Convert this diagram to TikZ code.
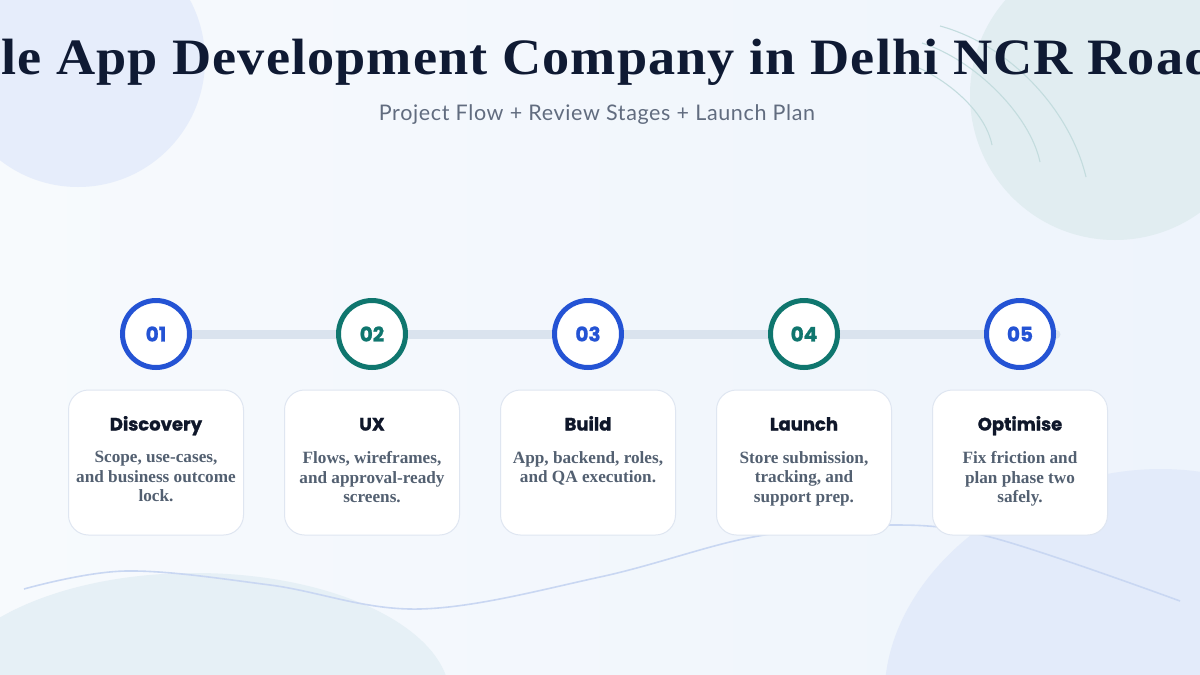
\documentclass[tikz,border=0pt]{standalone}
\usepackage{fontspec}
\setmainfont{Liberation Serif}
\newfontfamily\subfont[LetterSpace=3]{Lato}
\newfontfamily\headfont[BoldFeatures={FakeBold=1.2}]{Poppins}
\newfontfamily\titlefont[LetterSpace=2]{Liberation Serif}
\definecolor{bgA}{HTML}{F7FAFD}
\definecolor{bgB}{HTML}{EEF4FC}
\definecolor{blobTL}{HTML}{E6EDFB}
\definecolor{blobTR}{HTML}{E1EDF1}
\definecolor{blobBL}{HTML}{E6F0F6}
\definecolor{blobBR}{HTML}{E3EBFA}
\definecolor{arcC}{HTML}{C3DCDE}
\definecolor{waveC}{HTML}{C9D7F2}
\definecolor{titleC}{HTML}{0F1A33}
\definecolor{subC}{HTML}{616C7F}
\definecolor{blueC}{HTML}{2453D4}
\definecolor{tealC}{HTML}{0F766E}
\definecolor{trackC}{HTML}{DAE3EE}
\definecolor{cardB}{HTML}{DFE6F1}
\definecolor{headC}{HTML}{0F172A}
\definecolor{bodyC}{HTML}{536071}
\pgfdeclarelayer{deco}
\pgfdeclarelayer{track}
\pgfsetlayers{deco,track,main}
\tikzset{
  ring/.style={circle, draw=#1, line width=5pt, fill=white, minimum size=67pt, inner sep=0pt,
    text=#1, font=\headfont\bfseries\fontsize{20}{20}\selectfont},
  card/.style={rounded corners=20pt, draw=cardB, line width=1pt, fill=white,
    minimum width=175pt, minimum height=145pt, inner sep=0pt},
  heading/.style={anchor=base, inner sep=0pt, text=headC, font=\headfont\bfseries\fontsize{18}{18}\selectfont},
  body/.style={anchor=north, inner sep=0pt, align=center, text=bodyC,
    font=\bfseries\fontsize{17.2}{19.7}\selectfont},
  track/.style={draw=trackC, line width=9pt, line cap=round},
  deco arc/.style={draw=arcC, line width=1.1pt},
  wave/.style={draw=waveC, line width=1.6pt}
}
\begin{document}
\begin{tikzpicture}[x=1pt,y=-1pt]
\useasboundingbox (0,0) rectangle (1200,675);
\clip (0,0) rectangle (1200,675);
\begin{pgfonlayer}{deco}
  \shade[left color=bgA, right color=bgB] (0,0) rectangle (1200,675);
  \fill[blobTL] (78,60) circle[radius=127];
  \fill[blobTR] (1115,95) circle[radius=145];
  \fill[blobBL] (195,698) ellipse[x radius=255, y radius=125];
  \fill[blobBR, rotate around={18:(1125,665)}] (1125,665) ellipse[x radius=245, y radius=190];
  \path[deco arc] (940,26) .. controls (1010,45) and (1070,110) .. (1086,177);
  \path[deco arc] (922,43) .. controls (975,60) and (1030,115) .. (1040,162);
  \path[deco arc] (912,65) .. controls (945,78) and (985,110) .. (992,145);
  \draw[wave] plot[smooth, tension=0.6] coordinates {(24,589) (126,571) (270,585) (420,609) (600,577) (753,537) (880,525) (990,537) (1180,601)};
\end{pgfonlayer}

\node[anchor=base west, inner sep=0pt, text=titleC, font=\titlefont\bfseries\fontsize{51}{51}\selectfont] (title) at (1,74) {\scalebox{1.064}[1]{le App Development Company in Delhi NCR Road}};
\node[anchor=base, inner sep=0pt, text=subC, font=\subfont\fontsize{21.5}{21.5}\selectfont] (sub) at (597,120) {Project Flow + Review Stages + Launch Plan};

\node[ring=blueC] (c1) at (156,334) {01};
\node[ring=tealC] (c2) at (372,334) {02};
\node[ring=blueC] (c3) at (588,334) {03};
\node[ring=tealC] (c4) at (804,334) {04};
\node[ring=blueC] (c5) at (1020,334) {05};
\begin{pgfonlayer}{track}
  \draw[track] (c1.center) -- (c5.east);
\end{pgfonlayer}

\node[card] (k1) at (156,462.5) {};
\node[card] (k2) at (372,462.5) {};
\node[card] (k3) at (588,462.5) {};
\node[card] (k4) at (804,462.5) {};
\node[card] (k5) at (1020,462.5) {};

\node[heading] (h1) at (156,430.5) {Discovery};
\node[heading] (h2) at (372,430.5) {UX};
\node[heading] (h3) at (588,430.5) {Build};
\node[heading] (h4) at (804,430.5) {Launch};
\node[heading] (h5) at (1020,430.5) {Optimise};

\node[body] (b1) at (156,451) {Scope, use-cases,\\and business outcome\\lock.};
\node[body] (b2) at (372,451) {Flows, wireframes,\\and approval-ready\\screens.};
\node[body] (b3) at (588,451) {App, backend, roles,\\and QA execution.};
\node[body] (b4) at (804,451) {Store submission,\\tracking, and\\support prep.};
\node[body] (b5) at (1020,451) {Fix friction and\\plan phase two\\safely.};
\end{tikzpicture}
\end{document}
